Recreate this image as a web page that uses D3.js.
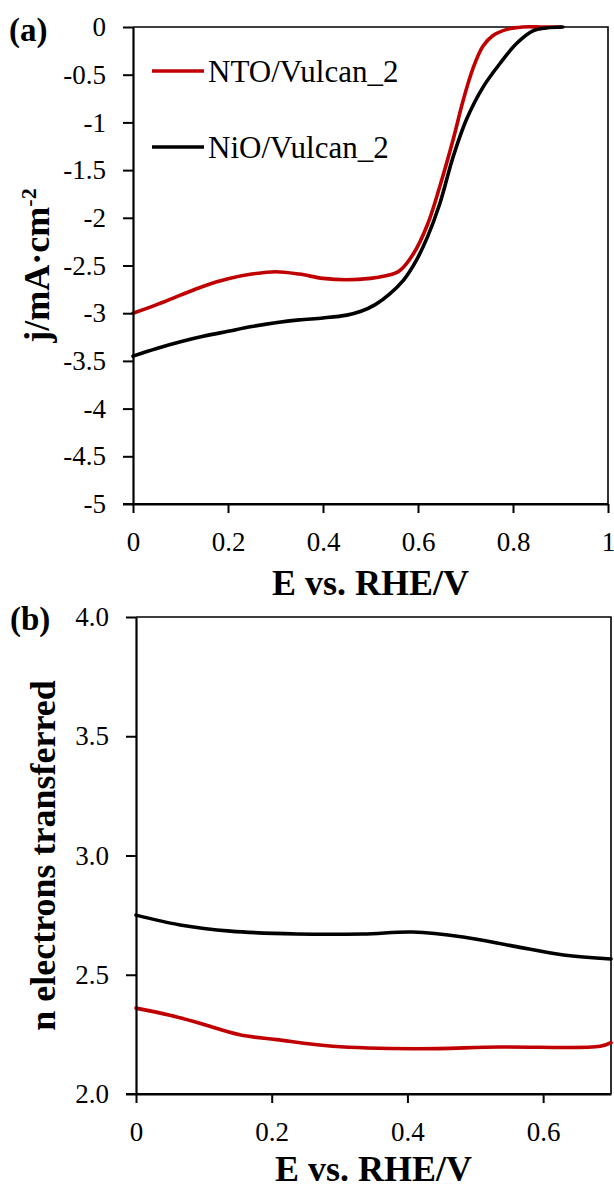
<!DOCTYPE html>
<html><head><meta charset="utf-8">
<script src="https://cdn.jsdelivr.net/npm/d3@7"></script>
<style>
html,body{margin:0;padding:0;background:#fff;}
svg{display:block;}
</style></head>
<body>
<svg id="chart" width="614" height="1189"></svg>
<script>
const FONT = "Liberation Serif";

// ---- Panel (a): LSV curves ----
const seriesNames = ["NTO/Vulcan_2", "NiO/Vulcan_2"];
const seriesColors = ["#c00000", "#000000"];

const ntoE_a = [0, 0.05, 0.1, 0.15, 0.2, 0.25, 0.3, 0.35, 0.4, 0.45, 0.5, 0.53, 0.56, 0.59, 0.62, 0.646, 0.674, 0.695, 0.716, 0.737, 0.758, 0.787, 0.82, 0.86, 0.9];
const ntoJ_a = [-3.0, -2.91, -2.81, -2.715, -2.64, -2.59, -2.565, -2.59, -2.635, -2.65, -2.635, -2.61, -2.56, -2.38, -2.07, -1.67, -1.18, -0.77, -0.43, -0.2, -0.09, -0.025, 0, 0, 0];

const niE_a = [0, 0.05, 0.1, 0.15, 0.2, 0.25, 0.3, 0.35, 0.4, 0.45, 0.48, 0.51, 0.54, 0.57, 0.595, 0.62, 0.646, 0.674, 0.702, 0.737, 0.773, 0.808, 0.842, 0.87, 0.905];
const niJ_a = [-3.45, -3.37, -3.3, -3.24, -3.19, -3.14, -3.1, -3.07, -3.05, -3.02, -2.98, -2.91, -2.8, -2.65, -2.46, -2.2, -1.85, -1.36, -0.97, -0.63, -0.38, -0.17, -0.04, -0.01, 0];

const xTicks_a = [0, 0.2, 0.4, 0.6, 0.8, 1];
const yTicks_a = [0, -0.5, -1, -1.5, -2, -2.5, -3, -3.5, -4, -4.5, -5];

// ---- Panel (b): electrons transferred ----
const ntoE_b = [0, 0.05, 0.09, 0.153, 0.207, 0.29, 0.41, 0.536, 0.684, 0.7];
const ntoN_b = [2.36, 2.33, 2.30, 2.248, 2.228, 2.2, 2.19, 2.197, 2.2, 2.215];
const niE_b = [0, 0.065, 0.139, 0.237, 0.335, 0.408, 0.482, 0.556, 0.63, 0.7];
const niN_b = [2.75, 2.709, 2.683, 2.671, 2.671, 2.679, 2.658, 2.62, 2.583, 2.566];

const xTicks_b = [0, 0.2, 0.4, 0.6];
const yTicks_b = [2.0, 2.5, 3.0, 3.5, 4.0];

const svg = d3.select("#chart");

function panel(opts) {
  const {left, right, top, bottom, xDomain, yDomain, xTicks, yTicks, xFmt, yFmt, series, label, yTitle, yTitleX, labelX, labelY, xTitleY} = opts;
  const x = d3.scaleLinear().domain(xDomain).range([left, right]);
  const y = d3.scaleLinear().domain(yDomain).range([bottom, top]);
  const g = svg.append("g");

  g.append("path")
    .attr("d", `M${left},${top}H${right}V${bottom}`)
    .attr("fill", "none").attr("stroke", "#000").attr("stroke-width", 1.6);

  const line = d3.line().x(d => x(d[0])).y(d => y(d[1])).curve(d3.curveCatmullRom.alpha(0.5));
  series.forEach(s => {
    g.append("path")
      .datum(s.xs.map((v, i) => [v, s.ys[i]]))
      .attr("d", line)
      .attr("fill", "none")
      .attr("stroke", s.color)
      .attr("stroke-width", 3.6)
      .attr("stroke-linejoin", "round")
      .attr("stroke-linecap", "round");
  });

  const ax = g.append("g").attr("transform", `translate(0,${bottom})`)
    .call(d3.axisBottom(x).tickValues(xTicks).tickFormat(xFmt).tickSize(9).tickSizeOuter(0).tickPadding(19));
  const ay = g.append("g").attr("transform", `translate(${left},0)`)
    .call(d3.axisLeft(y).tickValues(yTicks).tickFormat(yFmt).tickSize(10).tickSizeOuter(0).tickPadding(17));
  [ax, ay].forEach(a => {
    a.attr("font-family", FONT).attr("font-size", 27);
    a.select(".domain").attr("stroke-width", 2.2);
    a.selectAll(".tick line").attr("stroke-width", 2);
    a.selectAll(".tick text").attr("font-size", 27).attr("font-family", FONT);
  });
  g.append("line").attr("x1", left - 10).attr("x2", right).attr("y1", bottom).attr("y2", bottom)
    .attr("stroke", "#000").attr("stroke-width", 2.2);

  g.append("text")
    .attr("x", (left + right) / 2).attr("y", xTitleY)
    .attr("text-anchor", "middle").attr("font-weight", "bold").attr("font-size", 36)
    .attr("font-family", FONT)
    .text("E vs. RHE/V");

  const yt = g.append("text")
    .attr("transform", `translate(${yTitleX},${(top + bottom) / 2}) rotate(-90)`)
    .attr("text-anchor", "middle").attr("font-weight", "bold").attr("font-size", 36)
    .attr("font-family", FONT);
  yTitle(yt);

  g.append("text").attr("x", labelX).attr("y", labelY)
    .attr("font-weight", "bold").attr("font-size", 33).attr("font-family", FONT).text(label);
  return {x, y, g};
}

panel({
  left: 133, right: 608, top: 27, bottom: 504,
  xDomain: [0, 1], yDomain: [-5, 0],
  xTicks: xTicks_a, yTicks: yTicks_a,
  xFmt: d => String(d), yFmt: d => String(d),
  series: [
    {xs: ntoE_a, ys: ntoJ_a, color: seriesColors[0]},
    {xs: niE_a, ys: niJ_a, color: seriesColors[1]}
  ],
  label: "(a)", labelX: 9, labelY: 41, xTitleY: 595,
  yTitleX: 49,
  yTitle: t => {
    t.append("tspan").text("j/mA·cm");
    t.append("tspan").attr("font-size", 22).attr("dy", -13).text("-2");
  }
});

panel({
  left: 136, right: 611, top: 617, bottom: 1094,
  xDomain: [0, 0.7], yDomain: [2, 4],
  xTicks: xTicks_b, yTicks: yTicks_b,
  xFmt: d => String(d), yFmt: d3.format(".1f"),
  series: [
    {xs: ntoE_b, ys: ntoN_b, color: seriesColors[0]},
    {xs: niE_b, ys: niN_b, color: seriesColors[1]}
  ],
  label: "(b)", labelX: 10, labelY: 630, xTitleY: 1181,
  yTitleX: 55,
  yTitle: t => t.text("n electrons transferred")
});

const legY = [71, 147];
seriesNames.forEach((name, i) => {
  const lg = svg.append("g");
  lg.append("line").attr("x1", 152).attr("x2", 204).attr("y1", legY[i]).attr("y2", legY[i])
    .attr("stroke", seriesColors[i]).attr("stroke-width", 3.6);
  lg.append("text").attr("x", 208).attr("y", legY[i] + 10.5)
    .attr("font-size", 31).attr("font-family", FONT).text(name);
});
</script>
</body></html>
